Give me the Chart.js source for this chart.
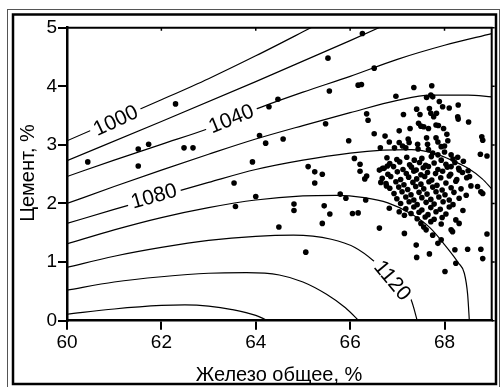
<!DOCTYPE html>
<html><head><meta charset="utf-8">
<script src="https://cdn.jsdelivr.net/npm/chart.js@4.4.1/dist/chart.umd.min.js"></script>
<style>html,body{margin:0;padding:0;background:#fff}canvas{display:block}</style>
</head><body>
<canvas id="c" width="500" height="387"></canvas>
<script>
// ---- data ----
const xTicks = [60, 62, 64, 66, 68];
const yTicks = [0, 1, 2, 3, 4, 5];
const xTitle = 'Железо общее, %';
const yTitle = 'Цемент, %';

// iso-lines (level -> x, y)
const iso1000X = [60, 61, 62, 63, 64, 65, 65.6];
const iso1000Y = [3.07, 3.42, 3.77, 4.13, 4.52, 4.93, 5.18];
const iso1020X = [60, 62, 64, 66, 67];
const iso1020Y = [2.73, 3.40, 4.08, 4.78, 5.14];
const iso1040X = [60, 61, 62, 63, 64, 65, 66, 67, 68, 69];
const iso1040Y = [2.46, 2.74, 3.01, 3.28, 3.61, 3.90, 4.17, 4.46, 4.70, 4.90];
const iso1060X = [60, 61, 62, 63, 64, 65, 66, 67, 67.7, 68.5, 69];
const iso1060Y = [2.00, 2.29, 2.57, 2.84, 3.10, 3.33, 3.55, 3.76, 3.85, 3.85, 3.82];
const iso1080X = [60, 61, 62, 63, 64, 65, 66, 66.7, 67.3, 67.8, 68.2, 68.5, 68.8, 69];
const iso1080Y = [1.66, 1.90, 2.13, 2.36, 2.58, 2.74, 2.86, 2.91, 2.92, 2.85, 2.72, 2.60, 2.42, 2.25];
const iso1100X = [60, 61, 62, 63, 64, 65, 65.7, 66.3, 66.8, 67.3, 67.7, 68.0, 68.3, 68.42, 68.49, 68.53];
const iso1100Y = [1.31, 1.55, 1.76, 1.93, 2.06, 2.13, 2.14, 2.10, 2.01, 1.82, 1.58, 1.30, 0.98, 0.81, 0.45, -0.05];
const iso1120X = [60, 61, 62, 63, 64, 64.8, 65.6, 66.1, 66.5, 66.9, 67.1, 67.29, 67.44];
const iso1120Y = [0.91, 1.10, 1.25, 1.37, 1.44, 1.46, 1.39, 1.25, 1.02, 0.70, 0.55, 0.36, -0.05];
const iso1140X = [60, 61, 62, 63, 63.8, 64.5, 65.0, 65.5, 65.9, 66.22];
const iso1140Y = [0.52, 0.66, 0.75, 0.81, 0.82, 0.78, 0.66, 0.45, 0.22, -0.03];
const iso1160X = [60, 61, 62, 62.5, 63, 63.5, 64, 64.33];
const iso1160Y = [0.11, 0.20, 0.26, 0.27, 0.25, 0.19, 0.09, -0.03];

// labelled iso-lines
const labelText = ['1000', '1040', '1080', '1120'];
const labelX = [61.03, 63.48, 61.84, 66.90];
const labelY = [3.42, 3.45, 2.13, 0.69];

// samples: iron total (%) and cement (%)
const ironPct = [
  62.30,61.51,61.73,60.44,61.51,62.48,62.67,63.93,64.08,63.54,
  63.57,66.26,65.53,66.51,66.17,66.24,65.56,64.47,64.28,65.48,
  66.35,66.38,64.21,64.58,65.97,66.51,66.74,66.83,66.64,66.09,
  66.21,66.21,65.11,65.25,65.41,65.25,66.35,66.31,66.62,66.69,
  66.79,66.65,66.77,64.00,65.79,65.91,66.33,66.83,64.81,64.81,
  65.45,65.57,66.05,66.17,65.41,64.49,66.62,65.06,67.04,67.15,
  67.15,67.40,67.41,67.56,67.61,67.68,67.75,67.86,67.93,68.01,
  68.14,68.17,68.31,68.22,68.24,68.49,68.77,68.81,68.90,67.35,
  67.73,66.97,67.62,67.71,67.75,67.89,67.96,68.10,68.29,67.41,
  67.48,67.68,67.71,67.77,67.83,67.13,68.28,68.29,68.51,67.27,
  67.45,67.50,67.56,67.66,67.82,67.87,67.98,68.05,67.04,67.04,
  67.23,67.25,67.62,67.82,67.86,68.07,67.43,67.64,68.79,68.81,
  68.76,68.90,68.14,68.31,68.53,68.70,68.77,68.81,67.44,67.66,
  67.11,67.18,66.94,67.93,68.00,67.75,67.86,68.00,68.14,68.28,
  66.78,66.99,67.20,67.36,67.52,67.72,67.93,68.18,68.40,66.84,
  67.05,67.26,67.47,67.60,67.78,68.03,68.22,66.72,66.92,67.12,
  67.30,67.40,67.55,67.66,67.86,68.06,68.30,68.50,66.80,67.00,
  67.19,67.35,67.50,67.64,67.81,67.96,68.13,68.38,66.68,66.86,
  67.07,67.24,67.41,67.58,67.73,67.92,68.10,68.26,68.47,66.76,
  66.97,67.14,67.33,67.50,67.67,67.84,68.03,68.24,66.84,67.03,
  67.22,67.39,67.56,67.75,67.95,68.14,68.35,68.56,66.93,67.10,
  67.29,67.46,67.63,67.82,68.01,68.20,68.46,66.99,67.18,67.35,
  67.52,67.71,67.88,68.10,68.31,67.07,67.25,67.42,67.61,67.78,
  67.97,68.18,67.18,67.35,67.52,67.71,67.91,68.10,68.39,67.29,
  67.46,67.65,67.82,68.03,67.42,67.59,67.78,67.95,68.24,67.50,
  67.71,67.93
];
const cementPct = [
  3.70,2.93,3.01,2.71,2.64,2.95,2.95,2.71,3.16,2.35,
  1.95,4.90,4.48,4.31,4.02,4.03,3.92,3.78,3.65,3.36,
  3.53,3.42,3.03,3.10,3.07,3.19,3.15,3.05,2.95,2.77,
  2.67,2.55,2.63,2.54,2.50,2.35,2.47,2.42,2.57,2.60,
  2.64,2.36,2.30,2.12,2.16,2.09,2.06,1.92,1.99,1.88,
  1.96,1.82,1.83,1.84,1.66,1.60,1.58,1.17,1.86,1.80,
  1.49,1.29,1.08,1.60,1.55,1.14,1.46,1.32,1.38,0.84,
  1.55,1.52,1.66,1.21,0.98,1.22,1.22,1.06,1.48,3.98,
  4.01,3.83,3.81,3.85,3.82,3.74,3.65,3.63,3.68,3.61,
  3.52,3.62,3.54,3.48,3.54,3.52,3.48,3.44,3.39,3.28,
  3.37,3.32,3.31,3.28,3.34,3.33,3.28,3.18,3.24,3.04,
  3.10,3.04,3.12,3.12,3.05,3.07,3.01,3.01,3.14,3.08,
  2.84,2.81,2.63,2.57,2.46,2.29,2.20,2.17,2.93,2.92,
  2.98,2.95,2.95,2.97,2.98,2.86,2.83,2.88,2.83,2.79,
  2.78,2.75,2.79,2.74,2.77,2.80,2.74,2.76,2.72,2.68,
  2.71,2.66,2.70,2.65,2.69,2.67,2.70,2.60,2.63,2.58,
  2.62,2.57,2.61,2.63,2.58,2.62,2.60,2.56,2.50,2.54,
  2.51,2.55,2.49,2.53,2.51,2.55,2.50,2.53,2.43,2.46,
  2.41,2.45,2.42,2.46,2.40,2.44,2.47,2.41,2.44,2.34,
  2.37,2.32,2.36,2.33,2.37,2.31,2.35,2.38,2.26,2.28,
  2.24,2.29,2.25,2.28,2.23,2.27,2.25,2.30,2.17,2.20,
  2.15,2.19,2.16,2.20,2.15,2.19,2.14,2.08,2.11,2.06,
  2.10,2.07,2.11,2.06,2.09,2.00,2.03,1.98,2.02,1.99,
  2.03,1.98,1.91,1.94,1.89,1.93,1.90,1.94,1.88,1.83,
  1.85,1.81,1.86,1.82,1.74,1.77,1.73,1.76,1.72,1.66,
  1.69,1.65
];

// ---- styling / chart ----
const FONT = '"Liberation Sans", Arial, sans-serif';
const labelAngles = [-25, -22, -16, 50];

const isoSets = [
  [iso1000X, iso1000Y], [iso1020X, iso1020Y], [iso1040X, iso1040Y],
  [iso1060X, iso1060Y], [iso1080X, iso1080Y], [iso1100X, iso1100Y],
  [iso1120X, iso1120Y], [iso1140X, iso1140Y], [iso1160X, iso1160Y]
];
const pairs = (xs, ys) => xs.map((x, i) => ({ x: x, y: ys[i] }));

const datasets = isoSets.map(([xs, ys]) => ({
  type: 'line',
  data: pairs(xs, ys),
  borderColor: '#000',
  borderWidth: 1.2,
  pointRadius: 0,
  fill: false,
  cubicInterpolationMode: 'monotone',
  order: 2
}));
datasets.push({
  type: 'scatter',
  data: pairs(ironPct, cementPct),
  backgroundColor: '#000',
  borderWidth: 0,
  pointRadius: 2.8,
  order: 0
});

const framePlugin = {
  id: 'frame',
  beforeDraw(chart) {
    const ctx = chart.ctx;
    ctx.save();
    ctx.fillStyle = '#fff';
    ctx.fillRect(0, 0, chart.width, chart.height);
    ctx.strokeStyle = '#555';
    ctx.lineWidth = 1;
    ctx.strokeRect(7.5, 9.5, 492, 378);
    ctx.strokeStyle = '#000';
    ctx.lineWidth = 2.5;
    ctx.strokeRect(13, 14.5, 483, 369.5);
    ctx.restore();
  },
  afterDatasetsDraw(chart) {
    const ctx = chart.ctx, a = chart.chartArea;
    const xs = chart.scales.x, ys = chart.scales.y;
    ctx.save();
    // contour labels
    ctx.font = '21px ' + FONT;
    labelText.forEach((t, i) => {
      const px = xs.getPixelForValue(labelX[i]);
      const py = ys.getPixelForValue(labelY[i]);
      ctx.save();
      ctx.translate(px, py);
      ctx.rotate(labelAngles[i] * Math.PI / 180);
      const w = ctx.measureText(t).width;
      ctx.fillStyle = '#fff';
      ctx.fillRect(-w / 2 - 4, -9, w + 8, 18);
      ctx.fillStyle = '#000';
      ctx.textAlign = 'center';
      ctx.textBaseline = 'middle';
      ctx.fillText(t, 0, 1);
      ctx.restore();
    });
    // top/right border
    ctx.strokeStyle = '#000';
    ctx.lineWidth = 2;
    ctx.beginPath();
    ctx.moveTo(a.left, a.top);
    ctx.lineTo(a.right, a.top);
    ctx.lineTo(a.right, a.bottom);
    ctx.stroke();
    // mirrored small ticks
    ctx.lineWidth = 1.5;
    ctx.beginPath();
    xTicks.forEach(v => {
      const p = xs.getPixelForValue(v);
      ctx.moveTo(p, a.top); ctx.lineTo(p, a.top + 3);
    });
    yTicks.forEach(v => {
      const p = ys.getPixelForValue(v);
      ctx.moveTo(a.right, p); ctx.lineTo(a.right + 3, p);
    });
    ctx.stroke();
    ctx.restore();
  },
  afterDraw(chart) {
    const ctx = chart.ctx;
    ctx.save();
    ctx.fillStyle = '#000';
    ctx.font = '20px ' + FONT;
    ctx.textAlign = 'center';
    ctx.textBaseline = 'alphabetic';
    ctx.fillText(xTitle, 279, 381);
    ctx.translate(34, 173);
    ctx.rotate(-Math.PI / 2);
    ctx.fillText(yTitle, 0, 0);
    ctx.restore();
  }
};

const axisCommon = {
  type: 'linear',
  grid: { drawOnChartArea: false, drawTicks: true, tickLength: 9, color: '#000', lineWidth: 2 },
  border: { display: true, color: '#000', width: 2.5 },
  ticks: { color: '#000', font: { family: FONT, size: 19 }, maxRotation: 0, autoSkip: false }
};

new Chart(document.getElementById('c'), {
  type: 'scatter',
  data: { datasets: datasets },
  options: {
    responsive: false,
    animation: false,
    devicePixelRatio: 1,
    layout: { padding: { left: 0, top: 27.7, right: 8.3, bottom: 0 } },
    plugins: { legend: { display: false }, tooltip: { enabled: false } },
    scales: {
      x: Object.assign({}, axisCommon, {
        min: 60, max: 69,
        afterBuildTicks: s => { s.ticks = xTicks.map(v => ({ value: v })); },
        afterFit: s => { s.height = 66.3; },
        ticks: Object.assign({}, axisCommon.ticks, { padding: 2 })
      }),
      y: Object.assign({}, axisCommon, {
        min: 0, max: 5,
        afterBuildTicks: s => { s.ticks = yTicks.map(v => ({ value: v })); },
        afterFit: s => { s.width = 67; },
        ticks: Object.assign({}, axisCommon.ticks, { padding: 1 })
      })
    }
  },
  plugins: [framePlugin]
});
</script>
</body></html>
